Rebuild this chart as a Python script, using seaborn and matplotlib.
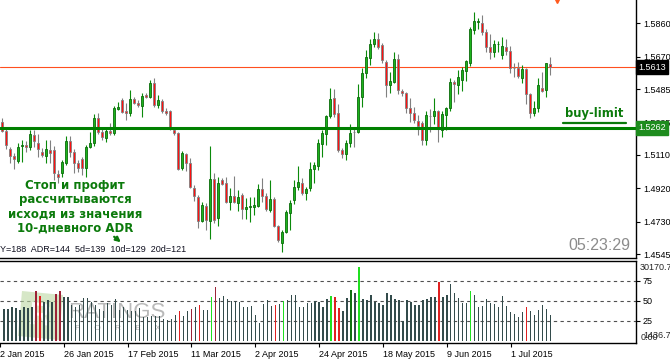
import numpy as np
import pandas as pd
import matplotlib
matplotlib.use("Agg")
import matplotlib.pyplot as plt
from matplotlib.patches import Polygon
from matplotlib.lines import Line2D
import seaborn as sns

# --- daily GBPUSD candles, 5 Jan 2015 .. 15 Jul 2015 ---
opens = [1.5298, 1.5246, 1.5144, 1.5104, 1.5075, 1.5158, 1.5166, 1.5155, 1.5223, 1.5178,
         1.5127, 1.5104, 1.5138, 1.5138, 1.5001, 1.5007, 1.5064, 1.5189, 1.5127, 1.5064,
         1.5087, 1.5035, 1.5155, 1.5178, 1.5320, 1.5241, 1.5206, 1.5246, 1.5235, 1.5372,
         1.5423, 1.5360, 1.5349, 1.5429, 1.5406, 1.5389, 1.5452, 1.5440, 1.5520, 1.5394,
         1.5417, 1.5360, 1.5360, 1.5252, 1.5235, 1.5035, 1.5115, 1.5064, 1.4921, 1.4870,
         1.4733, 1.4819, 1.4733, 1.4973, 1.4750, 1.4967, 1.4950, 1.4842, 1.4876, 1.4836,
         1.4882, 1.4802, 1.4813, 1.4813, 1.4819, 1.4916, 1.4876, 1.4796, 1.4859, 1.4705,
         1.4608, 1.4671, 1.4779, 1.4853, 1.4927, 1.4950, 1.4893, 1.4921, 1.5030, 1.5047,
         1.5172, 1.5229, 1.5332, 1.5434, 1.5349, 1.5138, 1.5115, 1.5178, 1.5241, 1.5241,
         1.5440, 1.5577, 1.5662, 1.5742, 1.5771, 1.5737, 1.5640, 1.5509, 1.5526, 1.5657,
         1.5474, 1.5463, 1.5377, 1.5349, 1.5303, 1.5292, 1.5195, 1.5332, 1.5332, 1.5360,
         1.5252, 1.5338, 1.5377, 1.5526, 1.5509, 1.5537, 1.5588, 1.5634, 1.5822, 1.5870,
         1.5862, 1.5811, 1.5725, 1.5697, 1.5740, 1.5680, 1.5725, 1.5702, 1.5605, 1.5605,
         1.5549, 1.5600, 1.5457, 1.5349, 1.5377, 1.5491, 1.5480, 1.5628]
highs = [1.5320, 1.5258, 1.5155, 1.5121, 1.5178, 1.5195, 1.5189, 1.5252, 1.5252, 1.5229,
         1.5149, 1.5195, 1.5195, 1.5161, 1.5024, 1.5081, 1.5218, 1.5218, 1.5144, 1.5081,
         1.5098, 1.5166, 1.5241, 1.5343, 1.5349, 1.5263, 1.5269, 1.5292, 1.5389, 1.5412,
         1.5434, 1.5406, 1.5480, 1.5440, 1.5423, 1.5463, 1.5463, 1.5537, 1.5549, 1.5452,
         1.5429, 1.5377, 1.5366, 1.5263, 1.5241, 1.5132, 1.5121, 1.5092, 1.4939, 1.4882,
         1.4842, 1.4836, 1.5161, 1.5007, 1.4984, 1.4979, 1.4984, 1.4921, 1.4990, 1.4910,
         1.4893, 1.4864, 1.4870, 1.4870, 1.4944, 1.4979, 1.4893, 1.4967, 1.4870, 1.4711,
         1.4682, 1.4796, 1.4853, 1.4967, 1.5047, 1.4979, 1.4927, 1.5070, 1.5070, 1.5201,
         1.5252, 1.5338, 1.5491, 1.5486, 1.5400, 1.5149, 1.5195, 1.5286, 1.5269, 1.5514,
         1.5605, 1.5708, 1.5771, 1.5811, 1.5805, 1.5748, 1.5651, 1.5583, 1.5697, 1.5685,
         1.5486, 1.5469, 1.5434, 1.5383, 1.5338, 1.5303, 1.5360, 1.5372, 1.5434, 1.5366,
         1.5360, 1.5383, 1.5549, 1.5537, 1.5594, 1.5611, 1.5651, 1.5839, 1.5925, 1.5890,
         1.5908, 1.5828, 1.5799, 1.5765, 1.5759, 1.5782, 1.5771, 1.5731, 1.5634, 1.5640,
         1.5622, 1.5605, 1.5463, 1.5417, 1.5549, 1.5583, 1.5634, 1.5668]
lows = [1.5241, 1.5144, 1.5064, 1.5030, 1.5064, 1.5070, 1.5127, 1.5138, 1.5155, 1.5098,
        1.5098, 1.5064, 1.5064, 1.4967, 1.4950, 1.4984, 1.5052, 1.5098, 1.5007, 1.5013,
        1.4996, 1.4984, 1.5149, 1.5161, 1.5229, 1.5195, 1.5184, 1.5223, 1.5223, 1.5366,
        1.5349, 1.5309, 1.5332, 1.5400, 1.5383, 1.5326, 1.5434, 1.5434, 1.5383, 1.5377,
        1.5349, 1.5338, 1.5252, 1.5223, 1.5024, 1.5024, 1.5018, 1.4921, 1.4847, 1.4693,
        1.4728, 1.4682, 1.4631, 1.4722, 1.4705, 1.4939, 1.4836, 1.4796, 1.4836, 1.4790,
        1.4745, 1.4745, 1.4728, 1.4768, 1.4813, 1.4842, 1.4790, 1.4785, 1.4699, 1.4614,
        1.4557, 1.4665, 1.4682, 1.4830, 1.4910, 1.4882, 1.4853, 1.4904, 1.4950, 1.5024,
        1.5098, 1.5166, 1.5320, 1.5326, 1.5127, 1.5092, 1.5081, 1.5155, 1.5155, 1.5235,
        1.5383, 1.5549, 1.5622, 1.5725, 1.5714, 1.5634, 1.5440, 1.5463, 1.5520, 1.5457,
        1.5446, 1.5349, 1.5298, 1.5292, 1.5223, 1.5166, 1.5166, 1.5241, 1.5286, 1.5184,
        1.5212, 1.5252, 1.5360, 1.5412, 1.5457, 1.5474, 1.5531, 1.5617, 1.5799, 1.5828,
        1.5794, 1.5697, 1.5657, 1.5668, 1.5697, 1.5657, 1.5680, 1.5577, 1.5554, 1.5549,
        1.5520, 1.5400, 1.5320, 1.5332, 1.5355, 1.5469, 1.5440, 1.5566]
closes = [1.5246, 1.5166, 1.5104, 1.5087, 1.5155, 1.5164, 1.5155, 1.5229, 1.5189, 1.5144,
          1.5109, 1.5144, 1.5121, 1.5007, 1.4984, 1.5070, 1.5189, 1.5127, 1.5064, 1.5035,
          1.5035, 1.5155, 1.5178, 1.5320, 1.5241, 1.5212, 1.5246, 1.5235, 1.5377, 1.5383,
          1.5355, 1.5349, 1.5429, 1.5406, 1.5394, 1.5446, 1.5440, 1.5520, 1.5394, 1.5423,
          1.5360, 1.5349, 1.5263, 1.5235, 1.5030, 1.5121, 1.5064, 1.4927, 1.4876, 1.4733,
          1.4825, 1.4739, 1.4973, 1.4739, 1.4950, 1.4944, 1.4842, 1.4876, 1.4842, 1.4870,
          1.4802, 1.4813, 1.4819, 1.4825, 1.4916, 1.4876, 1.4802, 1.4859, 1.4705, 1.4625,
          1.4671, 1.4785, 1.4836, 1.4927, 1.4956, 1.4893, 1.4916, 1.5030, 1.5052, 1.5178,
          1.5235, 1.5332, 1.5429, 1.5343, 1.5138, 1.5115, 1.5178, 1.5235, 1.5240, 1.5440,
          1.5577, 1.5668, 1.5742, 1.5771, 1.5725, 1.5651, 1.5509, 1.5531, 1.5657, 1.5480,
          1.5463, 1.5377, 1.5349, 1.5309, 1.5275, 1.5195, 1.5338, 1.5331, 1.5360, 1.5258,
          1.5343, 1.5377, 1.5526, 1.5514, 1.5554, 1.5594, 1.5645, 1.5828, 1.5873, 1.5876,
          1.5811, 1.5725, 1.5697, 1.5742, 1.5742, 1.5731, 1.5702, 1.5605, 1.5603, 1.5560,
          1.5600, 1.5457, 1.5349, 1.5377, 1.5509, 1.5474, 1.5634, 1.5613]

# lower indicator panel (0..100 scale)
volume = [40, 40, 43, 41, 39, 43, 41, 42, 63, 56, 49, 51, 49, 59, 63, 55, 55, 45, 43, 45,
          54, 54, 49, 45, 40, 38, 47, 45, 53, 39, 43, 39, 37, 37, 41, 30, 30, 31, 31, 31,
          27, 26, 27, 32, 38, 31, 37, 40, 42, 45, 39, 39, 55, 68, 54, 56, 53, 50, 50, 49,
          42, 43, 44, 33, 23, 46, 51, 44, 45, 46, 50, 51, 57, 57, 43, 43, 47, 47, 50, 49,
          42, 53, 56, 55, 41, 37, 54, 64, 60, 93, 52, 51, 57, 49, 47, 45, 60, 57, 52, 51,
          25, 51, 49, 45, 45, 51, 52, 55, 55, 74, 55, 57, 71, 60, 54, 47, 47, 62, 58, 43,
          44, 52, 48, 46, 43, 56, 44, 36, 34, 30, 36, 42, 38, 32, 39, 45, 40, 32]
vol_kind = ['base'] * len(volume)
for i in [9, 44, 49, 68, 83, 84, 109, 131]:
    vol_kind[i] = 'red'
for i in [8, 13, 14, 47, 53]:
    vol_kind[i] = 'darkred'
for i in [52, 70, 82, 89, 117]:
    vol_kind[i] = 'lime'
vol_kind[87] = 'green'

price_ticks = [1.5860, 1.5670, 1.5485, 1.5295, 1.5110, 1.4920, 1.4730, 1.4545]
vol_ticks = [25, 50, 75]
tick_dates = ['2015-01-02', '2015-01-26', '2015-02-17', '2015-03-11', '2015-04-02',
              '2015-04-24', '2015-05-18', '2015-06-09', '2015-07-01']
current_price = 1.5613
buy_limit = 1.5262
note_lines = ['Стоп и профит', 'рассчитываются', 'исходя из значения', '10-дневного ADR']
adr_text = 'Y=188  ADR=144  5d=139  10d=129  20d=121'

W, H = 670, 359


def fx(x):
    return x / W


def fy(y):
    return 1 - y / H


sns.set_theme(style="white")
plt.rcParams['font.family'] = ['Liberation Sans', 'DejaVu Sans']
plt.rcParams['axes.edgecolor'] = 'black'

# bar positions: business days from 2 Jan, candles start on 5 Jan
all_days = pd.bdate_range('2015-01-02', periods=len(opens) + 1)
df = pd.DataFrame({'open': opens, 'high': highs, 'low': lows, 'close': closes})
df['x'] = np.arange(1, len(df) + 1)
df['vol'] = volume
df['kind'] = vol_kind

fig = plt.figure(figsize=(W / 100, H / 100), dpi=100)
ax = fig.add_axes([0, fy(258), 636 / W, 258 / H])
axv = fig.add_axes([0, fy(343), 636 / W, 82 / H])
xlim = (0.417, 159.417)

# --- candles ---
up = df['close'] >= df['open']
body_lo = np.minimum(df['open'], df['close'])
body_h = np.maximum((df['close'] - df['open']).abs(), 0.00003)
ax.vlines(df.loc[up, 'x'], df.loc[up, 'low'], df.loc[up, 'high'], color='#0B8A0B', lw=0.8, zorder=2)
ax.vlines(df.loc[~up, 'x'], df.loc[~up, 'low'], df.loc[~up, 'high'], color='#808080', lw=0.8, zorder=2)
ax.bar(df.loc[up, 'x'], body_h[up], bottom=body_lo[up], width=0.58,
       color='#1CB41C', edgecolor='#0A6A0A', lw=0.6, zorder=3)
ax.bar(df.loc[~up, 'x'], body_h[~up], bottom=body_lo[~up], width=0.58,
       color='#FF1010', edgecolor='#808080', lw=0.6, zorder=3)

ax.axhline(current_price, color='#FF4F1F', lw=0.8, zorder=1)
ax.axhline(buy_limit, color='#008000', lw=2.2, zorder=4)

ax.set_xlim(*xlim)
ax.set_ylim(1.45224, 1.5993)
ax.set_xticks([])
ax.yaxis.tick_right()
ax.set_yticks(price_ticks)
ax.set_yticklabels([f"{v:.4f}" for v in price_ticks])
ax.tick_params(axis='y', direction='out', length=3, width=0.8, pad=2,
               labelsize=6.5, colors='black')
for s in ['top', 'left']:
    ax.spines[s].set_visible(False)
for s in ['right', 'bottom']:
    ax.spines[s].set_linewidth(1.0)

# price boxes on the right scale
ax.text(fx(638), fy(67), f"{current_price:.4f}", transform=fig.transFigure, fontsize=6.5,
        color='white', ha='left', va='center', zorder=6,
        bbox=dict(boxstyle='square,pad=0.25', fc='black', ec='black'))
ax.text(fx(638), fy(128), f"{buy_limit:.4f}", transform=fig.transFigure, fontsize=6.5,
        color='white', ha='left', va='center', zorder=6,
        bbox=dict(boxstyle='square,pad=0.25', fc='#1E8C1E', ec='#1E8C1E'))

# annotations in the price panel
for line, y in zip(note_lines, [186, 200, 214, 228]):
    fig.text(fx(75), fy(y), line, ha='center', va='center', fontsize=8.5,
             fontweight='bold', color='#0B7A0B', family=['DejaVu Sans'])
ax.annotate('', xy=(fx(123), fy(244)), xytext=(fx(112), fy(235)),
            xycoords='figure fraction', textcoords='figure fraction',
            arrowprops=dict(arrowstyle='-|>', color='#0B7A0B', lw=1.6, mutation_scale=7))
fig.text(fx(0), fy(250), adr_text, ha='left', va='center', fontsize=6.5, color='#101020')
fig.text(fx(599), fy(245), '05:23:29', ha='center', va='center', fontsize=11.5, color='#8C8C8C')
fig.text(fx(594), fy(113), 'buy-limit', ha='center', va='center', fontsize=8.3,
         fontweight='bold', color='#0B7A0B', family=['DejaVu Sans'])
fig.add_artist(Line2D([fx(563), fx(626)], [fy(123), fy(123)], color='#0B7A0B', lw=1.6))
fig.add_artist(Line2D([fx(557)], [fy(0)], marker='v', color='#FF5A1E', markersize=5, lw=0))

# --- lower panel ---
palette = {'base': '#2F4F4F', 'red': '#FF0000', 'darkred': '#B0102A',
           'lime': '#00FF00', 'green': '#008000'}
sns.barplot(data=df, x='x', y='vol', hue='kind', palette=palette, native_scale=True,
            dodge=False, width=0.34, errorbar=None, legend=False, linewidth=0,
            ax=axv, zorder=2)
for v in vol_ticks:
    axv.axhline(v, color='#505050', lw=0.8, ls=(0, (3, 3)), zorder=0.4)

# faded RATINGS FOREX watermark
logo = Polygon([(fx(22), fy(291)), (fx(63), fy(295)), (fx(59), fy(340)), (fx(18), fy(336))],
               closed=True, transform=fig.transFigure, fc='#BBD8A2', ec='none', alpha=0.6, zorder=0.5)
axv.add_patch(logo)
axv.text(fx(40), fy(317), 'R', transform=fig.transFigure, fontsize=22, fontweight='bold',
         color='white', alpha=0.9, ha='center', va='center', rotation=-5, zorder=0.6)
axv.text(fx(117), fy(313), 'RATINGS', transform=fig.transFigure, fontsize=16,
         color='#A8A8A8', alpha=0.8, ha='center', va='center', zorder=0.6)
axv.text(fx(118), fy(329), 'F      O      R      E      X', transform=fig.transFigure,
         fontsize=6, color='#B0B0B0', ha='center', va='center', zorder=0.6)

axv.set_xlim(*xlim)
axv.set_ylim(-2.5, 100)
axv.set_xlabel('')
axv.set_ylabel('')
axv.yaxis.tick_right()
axv.set_yticks(vol_ticks)
axv.set_yticklabels([str(v) for v in vol_ticks])
axv.tick_params(axis='y', direction='out', length=3, width=0.8, pad=2,
                labelsize=6.5, colors='black')
tick_x = [all_days.get_loc(pd.Timestamp(d)) for d in tick_dates]
tick_lab = [f"{pd.Timestamp(d).day} {pd.Timestamp(d).strftime('%b %Y')}" for d in tick_dates]
axv.set_xticks(tick_x)
axv.set_xticklabels(tick_lab, ha='left')
axv.tick_params(axis='x', direction='out', length=3, width=0.8, pad=2,
                labelsize=6.5, colors='black', bottom=True)
axv.spines['left'].set_visible(False)
for s in ['top', 'right', 'bottom']:
    axv.spines[s].set_linewidth(1.0)

fig.text(fx(640), fy(267), '30170.7', ha='left', va='center', fontsize=6.5)
fig.text(fx(641), fy(338), '0.00', ha='left', va='center', fontsize=6.5)
fig.text(fx(643), fy(336), '1436.7', ha='left', va='center', fontsize=6.5)

fig.savefig('out.png', dpi=100)
